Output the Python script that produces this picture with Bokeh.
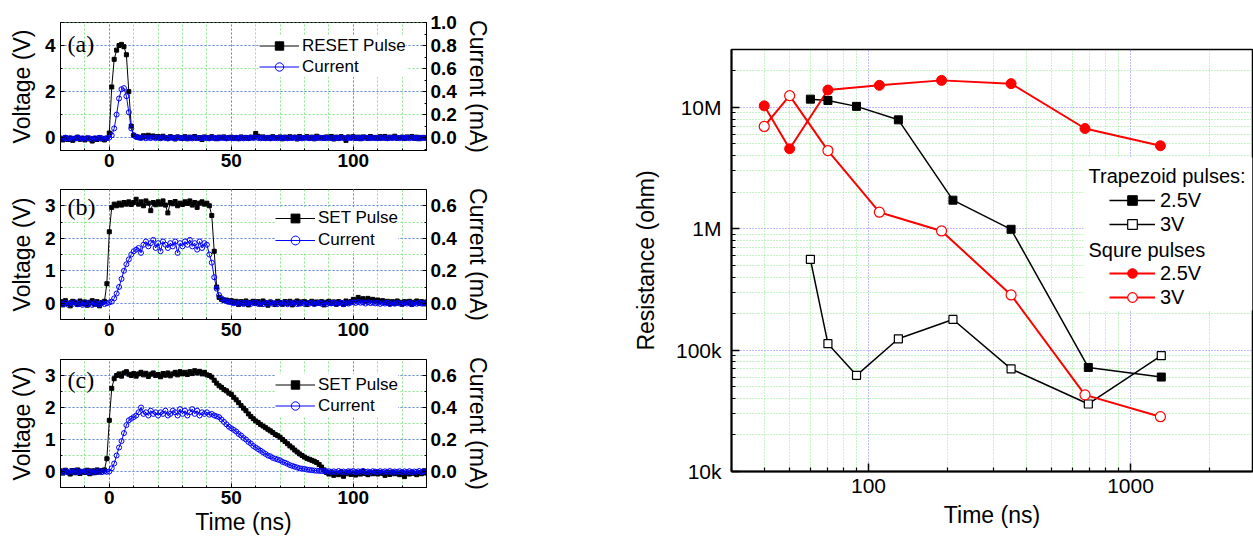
from bokeh.plotting import figure
from bokeh.models import (Range1d, LinearAxis, SingleIntervalTicker, PrintfTickFormatter,
                          Legend, LegendItem, Label, BoxAnnotation, FixedTicker,
                          CustomJSTickFormatter)
from bokeh.layouts import row, column
from bokeh.embed import file_html
from bokeh.resources import INLINE

# ---------------- data: pulse traces (time in ns, 1 ns sampling) ----------------
time_ns = list(range(-20, 131))

a_volt = [
    -0.05, -0.10, 0.00, -0.08, -0.03, -0.12, -0.05, 0.02, -0.07, -0.04,
    -0.10, -0.02, -0.06, -0.15, -0.04, -0.08, 0.00, -0.06, -0.10, -0.03,
    0.20, 2.20, 3.40, 3.80, 4.00, 4.05, 3.95, 3.60, 2.00, 0.50,
    0.10, 0.05, 0.02, 0.00, 0.08, 0.05, 0.10, 0.03, 0.07, 0.02,
    0.05, -0.02, 0.06, 0.00, -0.04, 0.04, 0.01, -0.06, 0.03, 0.00,
    -0.03, 0.04, -0.05, 0.02, -0.02, 0.05, -0.04, 0.00, -0.08, 0.03,
    0.00, -0.03, 0.04, -0.02, -0.05, 0.02, -0.01, 0.03, -0.04, 0.00,
    0.02, -0.03, 0.00, -0.05, 0.03, -0.02, 0.01, -0.04, 0.02, 0.00,
    0.18, 0.06, -0.02, 0.03, -0.04, 0.01, -0.03, 0.04, -0.02, 0.00,
    0.03, -0.05, 0.02, -0.03, 0.04, -0.01, 0.02, -0.06, 0.05, -0.02,
    0.00, 0.04, -0.03, 0.02, -0.05, 0.06, -0.02, 0.01, -0.04, 0.03,
    -0.02, 0.05, -0.06, 0.02, -0.03, 0.04, -0.01, -0.12, 0.03, 0.00,
    0.04, -0.03, 0.02, -0.05, 0.03, 0.00, -0.04, 0.05, -0.02, 0.01,
    -0.03, 0.04, -0.02, 0.05, -0.04, 0.02, -0.01, 0.06, -0.03, 0.00,
    0.02, -0.04, 0.03, -0.01, 0.05, -0.03, 0.02, -0.05, 0.01, -0.02,
    0.00]

a_cur = [
    -0.005, -0.01, 0.0, -0.008, -0.004, -0.01, -0.006, 0.0, -0.008, -0.005,
    -0.01, -0.004, -0.006, -0.012, -0.005, -0.008, -0.002, -0.006, -0.01, -0.004,
    0.0, 0.02, 0.08, 0.20, 0.34, 0.42, 0.43, 0.36, 0.22, 0.08,
    0.02, 0.005, 0.0, -0.004, 0.002, -0.006, 0.0, -0.004, 0.002, -0.005,
    0.0, -0.006, 0.002, -0.004, -0.008, 0.0, -0.003, -0.006, 0.002, -0.004,
    -0.006, 0.0, -0.005, -0.002, -0.007, 0.001, -0.004, -0.006, -0.002, -0.005,
    -0.003, -0.007, 0.0, -0.005, -0.002, -0.006, -0.001, -0.004, -0.007, -0.002,
    -0.004, -0.006, -0.001, -0.005, -0.002, -0.007, -0.003, -0.005, 0.0, -0.004,
    0.002, -0.003, -0.006, -0.001, -0.005, -0.003, -0.007, -0.002, -0.004, -0.006,
    -0.002, -0.005, -0.001, -0.006, -0.003, -0.004, 0.0, -0.005, -0.002, -0.006,
    -0.003, -0.001, -0.005, -0.002, -0.006, -0.003, 0.0, -0.004, -0.002, -0.005,
    -0.001, -0.004, -0.006, -0.002, -0.005, -0.001, -0.003, -0.006, -0.002, -0.004,
    0.0, -0.003, -0.005, -0.002, -0.004, 0.001, -0.003, -0.005, -0.001, -0.004,
    -0.002, -0.005, 0.0, -0.003, -0.006, -0.002, -0.004, 0.0, -0.003, -0.005,
    -0.001, -0.004, -0.002, -0.005, 0.0, -0.003, -0.006, -0.002, -0.004, -0.001,
    -0.003]

b_volt = [
    0.05, -0.05, 0.08, 0.00, -0.08, 0.06, 0.02, -0.04, 0.07, -0.02,
    0.04, -0.06, 0.03, 0.08, -0.03, 0.05, -0.08, 0.02, 0.06, 0.60,
    2.20, 2.95, 3.05, 3.00, 3.08, 3.02, 3.10, 3.05, 3.12, 3.04,
    3.10, 3.20, 3.05, 3.12, 3.00, 3.15, 3.08, 2.85, 3.10, 3.03,
    3.12, 3.05, 3.15, 3.02, 2.78, 3.10, 3.06, 3.13, 3.00, 3.08,
    3.04, 3.12, 3.07, 3.15, 3.02, 3.10, 2.95, 3.08, 3.12, 3.05,
    3.08, 3.00, 2.70, 1.60, 0.50, 0.18, 0.12, 0.08, 0.10, 0.05,
    0.08, 0.02, 0.06, -0.04, 0.05, 0.00, 0.07, -0.05, 0.03, 0.06,
    0.00, 0.05, -0.03, 0.07, 0.02, -0.06, 0.04, 0.01, -0.04, 0.06,
    0.02, -0.03, 0.05, 0.00, 0.06, -0.05, 0.03, 0.07, -0.02, 0.04,
    0.05, -0.04, 0.02, 0.06, -0.02, 0.04, 0.00, 0.05, -0.05, 0.03,
    0.06, 0.00, 0.04, -0.03, 0.05, 0.02, -0.04, 0.07, 0.01, 0.05,
    0.12, 0.08, 0.18, 0.10, 0.14, 0.06, 0.15, 0.09, 0.12, 0.07,
    0.10, 0.04, 0.08, 0.02, 0.06, -0.02, 0.05, 0.00, 0.07, 0.03,
    -0.03, 0.05, 0.02, 0.06, -0.04, 0.03, 0.07, 0.00, 0.05, -0.02,
    0.04]

b_cur = [
    0.0, -0.005, 0.004, -0.008, 0.002, -0.004, 0.006, -0.006, 0.0, -0.01,
    0.004, -0.006, 0.0, -0.01, 0.003, -0.004, -0.008, 0.002, -0.005, 0.0,
    0.005, 0.01, 0.03, 0.06, 0.10, 0.15, 0.20, 0.24, 0.27, 0.30,
    0.32, 0.33, 0.34, 0.31, 0.36, 0.38, 0.35, 0.37, 0.39, 0.34,
    0.37, 0.32, 0.38, 0.36, 0.34, 0.37, 0.35, 0.38, 0.31, 0.37,
    0.35, 0.38, 0.36, 0.39, 0.35, 0.37, 0.33, 0.38, 0.34, 0.37,
    0.36, 0.30, 0.25, 0.16, 0.09, 0.05, 0.03, 0.02, 0.012, 0.008,
    0.005, 0.0, 0.004, -0.003, 0.002, -0.005, 0.003, 0.0, -0.004, 0.002,
    0.003, -0.004, 0.001, -0.006, 0.002, -0.002, 0.005, -0.003, 0.0, -0.005,
    0.002, -0.003, 0.004, -0.006, 0.001, -0.002, 0.003, -0.005, 0.0, 0.002,
    -0.004, 0.001, -0.002, 0.004, -0.005, 0.0, 0.003, -0.003, 0.001, -0.006,
    0.002, -0.001, 0.004, -0.004, 0.0, 0.003, -0.005, 0.001, -0.002, 0.004,
    0.006, 0.002, 0.008, 0.003, 0.005, -0.002, 0.006, 0.001, 0.004, -0.001,
    0.003, -0.004, 0.002, -0.002, 0.004, -0.005, 0.001, -0.003, 0.002, -0.001,
    -0.004, 0.002, -0.002, 0.003, -0.005, 0.001, -0.003, 0.004, -0.002, 0.0,
    0.001]

c_volt = [
    0.02, -0.05, 0.04, -0.02, -0.08, 0.03, -0.04, 0.05, -0.06, 0.00,
    -0.03, 0.04, -0.07, 0.02, -0.04, 0.05, -0.02, 0.03, 0.05, 0.40,
    1.60, 2.60, 2.90, 3.00, 3.05, 2.98, 3.08, 3.12, 3.04, 3.00,
    3.06, 2.98, 3.05, 3.10, 3.02, 3.07, 2.97, 3.04, 3.08, 3.00,
    3.03, 2.96, 3.06, 3.01, 3.08, 2.99, 3.05, 3.10, 3.02, 3.12,
    3.05, 3.10, 3.03, 3.12, 3.06, 3.15, 3.08, 3.13, 3.05, 3.10,
    3.02, 3.00, 2.95, 2.85, 2.76, 2.68, 2.63, 2.56, 2.52, 2.45,
    2.41, 2.32, 2.24, 2.15, 2.06, 1.98, 1.90, 1.80, 1.72, 1.65,
    1.58, 1.53, 1.47, 1.42, 1.37, 1.32, 1.27, 1.22, 1.16, 1.12,
    1.07, 1.00, 0.94, 0.87, 0.80, 0.74, 0.67, 0.61, 0.55, 0.50,
    0.45, 0.41, 0.38, 0.35, 0.32, 0.28, 0.22, 0.14, 0.05, -0.03,
    -0.08, -0.04, -0.12, -0.06, -0.10, -0.03, -0.15, -0.07, -0.02, -0.09,
    -0.05, -0.11, -0.03, -0.08, 0.00, -0.06, -0.10, -0.04, -0.07, -0.02,
    -0.08, -0.03, -0.06, -0.12, -0.04, -0.09, -0.02, -0.07, -0.05, -0.10,
    -0.03, -0.16, -0.05, -0.08, -0.02, -0.06, -0.10, -0.04, -0.07, 0.02,
    -0.05]

c_cur = [
    0.0, -0.004, 0.003, -0.006, 0.002, -0.003, 0.005, -0.005, 0.001, -0.002,
    0.003, -0.005, 0.0, -0.007, 0.002, -0.003, 0.004, -0.004, 0.001, -0.002,
    0.0, 0.02, 0.05, 0.10, 0.15, 0.19, 0.24, 0.29, 0.32, 0.33,
    0.34, 0.35, 0.37, 0.40, 0.36, 0.37, 0.35, 0.38, 0.36, 0.37,
    0.35, 0.37, 0.36, 0.38, 0.35, 0.36, 0.38, 0.37, 0.35, 0.39,
    0.36, 0.38, 0.35, 0.37, 0.39, 0.36, 0.38, 0.35, 0.37, 0.36,
    0.37, 0.355, 0.36, 0.35, 0.345, 0.34, 0.325, 0.31, 0.295, 0.28,
    0.27, 0.26, 0.25, 0.235, 0.225, 0.21, 0.20, 0.185, 0.175, 0.16,
    0.15, 0.14, 0.13, 0.12, 0.11, 0.10, 0.095, 0.085, 0.08, 0.075,
    0.07, 0.06, 0.055, 0.048, 0.04, 0.035, 0.03, 0.025, 0.02, 0.018,
    0.016, 0.012, 0.01, 0.008, 0.006, 0.005, 0.004, 0.003, 0.002, 0.0,
    0.002, -0.003, 0.001, -0.004, 0.003, -0.002, 0.0, -0.005, 0.002, -0.001,
    0.003, -0.004, 0.001, -0.002, 0.004, -0.003, 0.0, -0.005, 0.002, -0.001,
    -0.003, 0.002, -0.004, 0.001, -0.002, 0.003, -0.005, 0.0, -0.002, 0.002,
    -0.004, 0.001, -0.003, 0.002, -0.005, 0.0, -0.002, 0.003, -0.004, 0.001,
    -0.002]

for arr in (a_volt, a_cur, b_volt, b_cur, c_volt, c_cur):
    assert len(arr) == len(time_ns), len(arr)

# ---------------- data: panel (d) resistance vs pulse width ----------------
trap25_t = [60, 70, 90, 130, 210, 350, 690, 1310]
trap25_r = [1.17e7, 1.14e7, 1.02e7, 7.9e6, 1.72e6, 9.9e5, 7.2e4, 6.0e4]
trap3_t = [60, 70, 90, 130, 210, 350, 690, 1310]
trap3_r = [5.6e5, 1.13e5, 6.2e4, 1.24e5, 1.79e5, 7.0e4, 3.6e4, 9.0e4]
sq25_t = [40, 50, 70, 110, 190, 350, 670, 1300]
sq25_r = [1.03e7, 4.56e6, 1.39e7, 1.52e7, 1.67e7, 1.57e7, 6.7e6, 4.83e6]
sq3_t = [40, 50, 70, 110, 190, 350, 670, 1300]
sq3_r = [6.97e6, 1.25e7, 4.41e6, 1.37e6, 9.6e5, 2.85e5, 4.28e4, 2.83e4]

# ---------------- styling ----------------
FONT = "Liberation Sans"
SERIF = "Liberation Serif"
BLUE_GRID = "#7b7bff"
GREEN_GRID = "#88e888"


def style_axis(ax, bold=True, tick_size="19px", label_size="23px"):
    ax.axis_line_color = "black"
    ax.major_tick_line_color = "black"
    ax.minor_tick_line_color = "black"
    ax.major_tick_in = 4
    ax.major_tick_out = 0
    ax.minor_tick_in = 2
    ax.minor_tick_out = 0
    ax.major_label_text_font = FONT
    ax.major_label_text_font_style = "bold" if bold else "normal"
    ax.major_label_text_font_size = tick_size
    ax.major_label_text_color = "black"
    ax.axis_label_text_font = FONT
    ax.axis_label_text_font_style = "normal"
    ax.axis_label_text_font_size = label_size
    ax.axis_label_text_color = "black"


def pulse_panel(tag, volt, cur, vrange, crange, vint, height, bt, bb,
                pulse_name, leg_loc, row_h, tag_y, xlabel=None):
    p = figure(width=528, height=height, x_range=Range1d(-20, 130),
               y_range=Range1d(*vrange), output_backend="svg",
               toolbar_location=None, min_border_left=60, min_border_right=102,
               min_border_top=bt, min_border_bottom=bb)
    p.extra_y_ranges = {"cur": Range1d(*crange)}
    p.outline_line_color = "black"
    p.outline_line_width = 1
    p.background_fill_color = "white"

    xt = SingleIntervalTicker(interval=50, num_minor_ticks=5)
    yt = SingleIntervalTicker(interval=vint, num_minor_ticks=2)
    p.xaxis.ticker = xt
    p.yaxis.ticker = yt
    p.xgrid.ticker = xt
    p.ygrid.ticker = yt
    for g in (p.xgrid, p.ygrid):
        g.grid_line_color = BLUE_GRID
        g.grid_line_dash = "2 2"
        g.grid_line_width = 1
        g.minor_grid_line_color = GREEN_GRID
        g.minor_grid_line_dash = "2 2"
        g.minor_grid_line_width = 1

    style_axis(p.xaxis[0])
    style_axis(p.yaxis[0])
    p.yaxis.axis_label = "Voltage (V)"
    p.yaxis.major_label_standoff = 5
    p.yaxis.axis_label_standoff = 7
    p.xaxis.major_label_standoff = 3
    if xlabel:
        p.xaxis.axis_label = xlabel
        p.xaxis.axis_label_standoff = 2

    rax = LinearAxis(y_range_name="cur",
                     ticker=SingleIntervalTicker(interval=0.2, num_minor_ticks=2),
                     formatter=PrintfTickFormatter(format="%.1f"),
                     axis_label="Current (mA)")
    style_axis(rax)
    rax.major_label_standoff = 4
    rax.axis_label_standoff = 5
    p.add_layout(rax, "right")

    lv = p.line(time_ns, volt, line_color="black", line_width=1)
    sv = p.scatter(time_ns, volt, marker="square", size=4, fill_color="black",
                   line_color="black")
    lc = p.line(time_ns, cur, line_color="#0000ff", line_width=1, y_range_name="cur")
    sc = p.scatter(time_ns, cur, marker="circle", size=5, line_color="#0000ff",
                   fill_color=None, line_width=1, y_range_name="cur")

    leg = Legend(items=[LegendItem(label=pulse_name, renderers=[lv, sv]),
                        LegendItem(label="Current", renderers=[lc, sc])],
                 location=leg_loc, orientation="vertical",
                 glyph_width=40, glyph_height=row_h, label_height=row_h,
                 label_standoff=3, padding=3, spacing=0, margin=0,
                 label_text_font=FONT, label_text_font_size="17px",
                 label_text_color="black",
                 background_fill_color="white", background_fill_alpha=1,
                 border_line_color=None)
    p.add_layout(leg)

    p.add_layout(Label(x=7, y=tag_y, x_units="screen", y_units="screen", text=tag,
                       text_font=SERIF, text_font_size="24px", text_color="black",
                       text_baseline="middle", text_align="left"))
    return p


pa = pulse_panel("(a)", a_volt, a_cur, (-0.56, 5.0005), (-0.112, 1.0001), 2,
                 175, 22, 25, "RESET Pulse", (199, 73), 21, 106.7)
pb = pulse_panel("(b)", b_volt, b_cur, (-0.5, 3.5), (-0.1, 0.7), 1,
                 170, 14, 26, "SET Pulse", (215, 68), 22, 113)
pc = pulse_panel("(c)", c_volt, c_cur, (-0.5, 3.5), (-0.1, 0.7), 1,
                 196, 14, 54, "SET Pulse", (215, 71), 21, 108, xlabel="Time (ns)")

# ---------------- panel (d) ----------------
pd = figure(width=725, height=541, x_axis_type="log", y_axis_type="log",
            x_range=Range1d(30, 2920), y_range=Range1d(1e4, 3e7),
            output_backend="svg", toolbar_location=None,
            min_border_left=203, min_border_right=1, min_border_top=49,
            min_border_bottom=70)
pd.outline_line_color = "black"
pd.outline_line_width = 1.5

x_minor = [m * 10 ** k for k in (1, 2, 3) for m in range(2, 10)]
y_minor = [m * 10 ** k for k in (4, 5, 6, 7) for m in range(2, 10)]
dxt = FixedTicker(ticks=[100, 1000], minor_ticks=x_minor)
dyt = FixedTicker(ticks=[1e4, 1e5, 1e6, 1e7], minor_ticks=y_minor)
pd.xaxis.ticker = dxt
pd.yaxis.ticker = dyt
pd.xgrid.ticker = dxt
pd.ygrid.ticker = dyt
pd.xaxis.formatter = CustomJSTickFormatter(code="return tick.toFixed(0);")
pd.yaxis.formatter = CustomJSTickFormatter(
    code="if (tick >= 1e6) { return (tick/1e6).toFixed(0) + 'M'; } return (tick/1e3).toFixed(0) + 'k';")
for g in (pd.xgrid, pd.ygrid):
    g.grid_line_color = BLUE_GRID
    g.grid_line_dash = "1 2"
    g.grid_line_width = 1
    g.minor_grid_line_color = GREEN_GRID
    g.minor_grid_line_dash = "1 2"
    g.minor_grid_line_width = 1
for ax in (pd.xaxis[0], pd.yaxis[0]):
    style_axis(ax, bold=False, tick_size="21px", label_size="23px")
    ax.axis_line_width = 2
    ax.major_tick_line_width = 1.5
    ax.minor_tick_line_width = 1.2
    ax.major_tick_in = 8
    ax.minor_tick_in = 4
pd.xaxis.axis_label = "Time (ns)"
pd.xaxis.major_label_standoff = 7
pd.xaxis.axis_label_standoff = 6
pd.yaxis.axis_label = "Resistance (ohm)"
pd.yaxis.major_label_standoff = 10
pd.yaxis.axis_label_standoff = 14

l_t25 = pd.line(trap25_t, trap25_r, line_color="black", line_width=1.5)
l_t3 = pd.line(trap3_t, trap3_r, line_color="black", line_width=1.5)
l_s25 = pd.line(sq25_t, sq25_r, line_color="#ff0000", line_width=2)
l_s3 = pd.line(sq3_t, sq3_r, line_color="#ff0000", line_width=2)
s_t25 = pd.scatter(trap25_t, trap25_r, marker="square", size=8, fill_color="black",
                   line_color="black")
s_t3 = pd.scatter(trap3_t, trap3_r, marker="square", size=8, fill_color="white",
                  line_color="black", line_width=1.2)
s_s25 = pd.scatter(sq25_t, sq25_r, marker="circle", size=10, fill_color="#ff0000",
                   line_color="#ff0000")
s_s3 = pd.scatter(sq3_t, sq3_r, marker="circle", size=10, fill_color="white",
                  line_color="#ff0000", line_width=1.2)

pd.add_layout(BoxAnnotation(left=352, right=521, top=314, bottom=161,
                            left_units="screen", right_units="screen",
                            top_units="screen", bottom_units="screen",
                            fill_color="white", fill_alpha=1, line_color=None))

leg_common = dict(orientation="vertical", glyph_width=46, glyph_height=24,
                  label_height=24, label_standoff=5, padding=0, spacing=0, margin=0,
                  label_text_font=FONT, label_text_font_size="20px",
                  label_text_color="black",
                  background_fill_alpha=0, border_line_color=None)
pd.add_layout(Legend(items=[LegendItem(label="2.5V", renderers=[l_t25, s_t25]),
                            LegendItem(label="3V", renderers=[l_t3, s_t3])],
                     location=(378, 235), **leg_common))
pd.add_layout(Legend(items=[LegendItem(label="2.5V", renderers=[l_s25, s_s25]),
                            LegendItem(label="3V", renderers=[l_s3, s_s3])],
                     location=(378, 162), **leg_common))
for txt, yy in (("Trapezoid pulses:", 296), ("Squre pulses", 222)):
    pd.add_layout(Label(x=357, y=yy, x_units="screen", y_units="screen", text=txt,
                        text_font=FONT, text_font_size="20px", text_color="black",
                        text_baseline="middle", text_align="left"))
pd.add_layout(Label(x=-54, y=413, x_units="screen", y_units="screen", text="(d)",
                    text_font=SERIF, text_font_size="24px", text_color="black",
                    text_baseline="middle", text_align="left"))

layout = row(column(pa, pb, pc, spacing=0), pd, spacing=0)
open("out.html", "w").write(file_html(layout, INLINE))
